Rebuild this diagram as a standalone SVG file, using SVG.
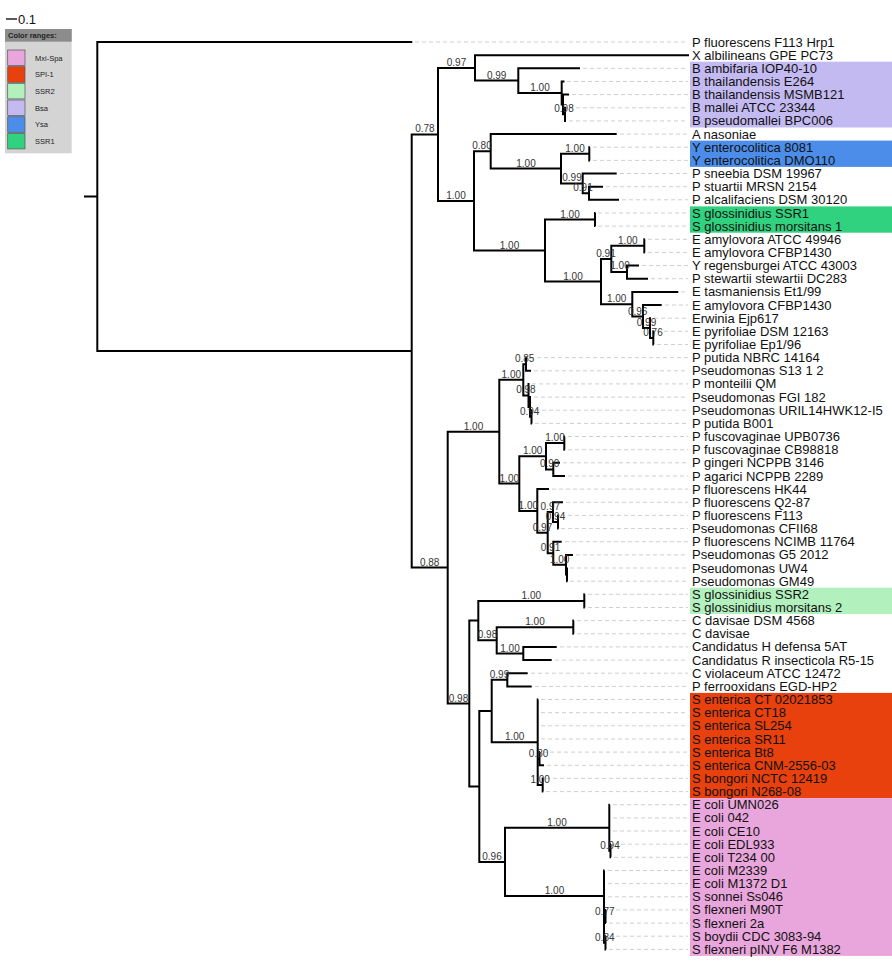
<svg xmlns="http://www.w3.org/2000/svg" width="892" height="963" viewBox="0 0 892 963">
<style>
.br{stroke:#000;stroke-width:2;fill:none;stroke-linejoin:miter}
.gd{stroke:#cfcfcf;stroke-width:1;stroke-dasharray:4 3;fill:none}
.lf{font-family:"Liberation Sans",Arial,sans-serif;font-size:13px;fill:#111}
.bs{font-family:"Liberation Sans",Arial,sans-serif;font-size:10px;fill:#333;text-anchor:middle}
.lg{font-family:"Liberation Sans",Arial,sans-serif;font-size:7.5px;fill:#222}
.sw{stroke:#555;stroke-width:0.7}
</style>
<rect width="892" height="963" fill="#fff"/>
<g id="scale">
<line x1="6" y1="19" x2="17" y2="19" stroke="#000" stroke-width="1.3"/>
<text x="18" y="24" font-family="Liberation Sans, Arial, sans-serif" font-size="13" fill="#111">0.1</text>
</g>
<g id="legend">
<rect x="5" y="29" width="66.7" height="124.3" fill="#d4d4d4"/>
<rect x="5" y="29" width="66.7" height="12.7" fill="#8c8c8c"/>
<text x="8" y="38.3" class="lg" font-weight="bold" fill="#2a2a2a">Color ranges:</text>
<rect x="7.7" y="50" width="17.3" height="15.6" fill="#e9a6dc" class="sw"/>
<text x="35" y="60.5" class="lg">Mxi-Spa</text>
<rect x="7.7" y="66.7" width="17.3" height="15.6" fill="#e8410e" class="sw"/>
<text x="35" y="77.2" class="lg">SPI-1</text>
<rect x="7.7" y="83.3" width="17.3" height="15.6" fill="#b2f0bd" class="sw"/>
<text x="35" y="93.8" class="lg">SSR2</text>
<rect x="7.7" y="100" width="17.3" height="15.6" fill="#c4baf2" class="sw"/>
<text x="35" y="110.5" class="lg">Bsa</text>
<rect x="7.7" y="116.7" width="17.3" height="15.6" fill="#4b8de9" class="sw"/>
<text x="35" y="127.2" class="lg">Ysa</text>
<rect x="7.7" y="133.3" width="17.3" height="15.6" fill="#31d27f" class="sw"/>
<text x="35" y="143.8" class="lg">SSR1</text>
</g>
<g id="ranges">
<rect x="690" y="61.7" width="202" height="65.8" fill="#c4baf2"/>
<rect x="690" y="140.6" width="202" height="26.3" fill="#4b8de9"/>
<rect x="690" y="206.4" width="202" height="26.3" fill="#31d27f"/>
<rect x="690" y="587.7" width="202" height="26.3" fill="#b2f0bd"/>
<rect x="690" y="692.9" width="202" height="105.2" fill="#e8410e"/>
<rect x="690" y="798.1" width="202" height="157.8" fill="#e9a6dc"/>
</g>
<g id="guides">
<path class="gd" d="M415 42H688 M583 68.3H688 M567 81.5H688 M572 94.6H688 M569 107.8H688 M569 120.9H688 M620 134.1H688 M593 147.2H688 M593 160.4H688 M620 173.5H688 M606 186.7H688 M622 199.8H688 M598 213H688 M598 226.1H688 M648 239.3H688 M648 252.4H688 M642 265.6H688 M651 278.7H688 M681 291.9H688 M665 305H688 M654 318.2H688 M657 331.3H688 M657 344.5H688 M530 357.6H688 M534 370.8H688 M532 383.9H688 M534 397.1H688 M535 410.2H688 M535 423.4H688 M568 436.5H688 M568 449.7H688 M563 462.8H688 M568 476H688 M552 489.1H688 M566 502.3H688 M561 515.4H688 M561 528.6H688 M565 541.7H688 M576 554.9H688 M570 568H688 M570 581.2H688 M588 594.3H688 M588 607.5H688 M577 620.6H688 M577 633.8H688 M560 646.9H688 M555 660.1H688 M531 673.2H688 M535 686.4H688 M541 699.5H688 M541 712.7H688 M541 725.8H688 M541 739H688 M543 752.1H688 M547 765.3H688 M546 778.4H688 M546 791.6H688 M613 804.7H688 M613 817.9H688 M613 831H688 M614 844.2H688 M614 857.3H688 M608 870.5H688 M608 883.6H688 M608 896.8H688 M609 909.9H688 M609 923.1H688 M609 936.2H688 M609 949.4H688"/>
</g>
<g id="connectors" class="br">
<path d="M84 196.5H97.3 M412.3 42H97.3V351H411.7"/>
<path d="M438 134.4H411.7V567.6H447.7"/>
<path d="M475 67.9H438V200.9H474"/>
<path d="M689 55.2H475V80.6H518.3"/>
<path d="M580 68.3H518.3V93H561.7"/>
<path d="M564.5 81.5H561.7V104.5H563"/>
<path d="M569 94.6H563V114.3H565"/>
<path d="M566 107.8H565V120.9H566"/>
<path d="M490.7 151.3H474V250.6H545"/>
<path d="M616.7 134.1H490.7V168.6H561"/>
<path d="M589.3 153.8H561V183.4H582.7"/>
<path d="M590 147.2H589.3V160.4H590"/>
<path d="M616.7 173.5H582.7V193.2H589"/>
<path d="M603 186.7H589V199.8H619"/>
<path d="M595 219.5H545V281.6H601"/>
<path d="M595.5 213H595V226.1H595.5"/>
<path d="M611.3 259H601V304.2H632.3"/>
<path d="M644.3 245.8H611.3V272.1H627"/>
<path d="M644.8 239.3H644.3V252.4H644.8"/>
<path d="M639 265.6H627V278.7H648"/>
<path d="M678.3 291.9H632.3V316.5H643"/>
<path d="M661.7 305H643V328H650"/>
<path d="M651 318.2H650V337.9H653.3"/>
<path d="M653.8 331.3H653.3V344.5H653.8"/>
<path d="M499.3 431.7H447.7V703.5H469.3"/>
<path d="M523.3 379.8H499.3V483.6H519.3"/>
<path d="M526 364.2H523.3V395.4H528.5"/>
<path d="M527 357.6H526V370.8H531"/>
<path d="M529.5 383.9H528.5V406.9H530"/>
<path d="M531 397.1H530V416.8H531.5"/>
<path d="M532 410.2H531.5V423.4H532"/>
<path d="M546 456.2H519.3V510.9H537.3"/>
<path d="M564.3 443.1H546V469.4H553.3"/>
<path d="M564.8 436.5H564.3V449.7H564.8"/>
<path d="M560 462.8H553.3V476H565"/>
<path d="M549 489.1H537.3V532.7H547.7"/>
<path d="M553 512.1H547.7V553.2H553.3"/>
<path d="M563 502.3H553V522H558"/>
<path d="M558.5 515.4H558V528.6H558.5"/>
<path d="M561.7 541.7H553.3V564.7H566"/>
<path d="M573 554.9H566V574.6H567"/>
<path d="M567.5 568H567V581.2H567.5"/>
<path d="M478.3 620.6H469.3V786.4H479.3"/>
<path d="M584.3 600.9H478.3V640.3H496.7"/>
<path d="M584.8 594.3H584.3V607.5H584.8"/>
<path d="M573.3 627.2H496.7V653.5H523.3"/>
<path d="M573.8 620.6H573.3V633.8H573.8"/>
<path d="M556.7 646.9H523.3V660.1H551.7"/>
<path d="M491.7 711H479.3V861.9H505"/>
<path d="M507.3 679.8H491.7V742.2H537.7"/>
<path d="M527.7 673.2H507.3V686.4H531.7"/>
<path d="M538.2 699.5H537.7V785H542.7 M537.7 712.7H538.2 M537.7 725.8H538.2 M537.7 739H538.2 M537.7 758.7H539.5"/>
<path d="M540 752.1H539.5V765.3H544"/>
<path d="M543.2 778.4H542.7V791.6H543.2"/>
<path d="M609.3 827.7H505V896H604"/>
<path d="M609.8 804.7H609.3V850.7H610.5 M609.3 817.9H609.8 M609.3 831H609.8"/>
<path d="M611 844.2H610.5V857.3H611"/>
<path d="M604.5 870.5H604V942.8H605.5 M604 883.6H604.5 M604 896.8H604.5 M604 916.5H605.5"/>
<path d="M606 909.9H605.5V923.1H606"/>
<path d="M606 936.2H605.5V949.4H606"/>
</g>
<g id="support" class="bs" opacity="0.99">
<text x="424.9" y="132.4">0.78</text>
<text x="456.5" y="65.9">0.97</text>
<text x="496.7" y="78.6">0.99</text>
<text x="540" y="91">1.00</text>
<text x="564" y="112.3">0.98</text>
<text x="456" y="198.9">1.00</text>
<text x="482" y="149.3">0.80</text>
<text x="526" y="166.6">1.00</text>
<text x="575" y="151.8">1.00</text>
<text x="572" y="181.4">0.99</text>
<text x="583" y="191.2">0.91</text>
<text x="509.5" y="248.6">1.00</text>
<text x="570" y="217.5">1.00</text>
<text x="573" y="279.6">1.00</text>
<text x="606" y="257">0.91</text>
<text x="627.8" y="243.8">1.00</text>
<text x="620" y="269">1.00</text>
<text x="616.7" y="302.2">1.00</text>
<text x="637.7" y="314.5">0.96</text>
<text x="646.5" y="326">0.99</text>
<text x="653" y="335.9">0.76</text>
<text x="429.7" y="565.6">0.88</text>
<text x="473.5" y="429.7">1.00</text>
<text x="511.3" y="377.8">1.00</text>
<text x="524.7" y="362.2">0.85</text>
<text x="525.9" y="393.4">0.98</text>
<text x="529.7" y="414.8">0.94</text>
<text x="509.3" y="481.6">1.00</text>
<text x="532.7" y="454.2">1.00</text>
<text x="555" y="441.1">1.00</text>
<text x="549.7" y="467.4">0.90</text>
<text x="528.3" y="508.9">1.00</text>
<text x="550.3" y="510.1">0.97</text>
<text x="555.5" y="520">0.94</text>
<text x="542.5" y="530.7">0.97</text>
<text x="550.5" y="551.2">0.91</text>
<text x="559.7" y="562.7">1.00</text>
<text x="458.5" y="701.5">0.98</text>
<text x="531.3" y="598.9">1.00</text>
<text x="487.5" y="638.3">0.98</text>
<text x="535" y="625.2">1.00</text>
<text x="510" y="651.5">1.00</text>
<text x="499.5" y="677.8">0.99</text>
<text x="514.7" y="740.2">1.00</text>
<text x="538.6" y="756.7">0.80</text>
<text x="540.2" y="783">1.00</text>
<text x="492" y="859.9">0.96</text>
<text x="557" y="825.7">1.00</text>
<text x="610" y="848.7">0.94</text>
<text x="554.5" y="894">1.00</text>
<text x="604.8" y="914.5">0.77</text>
<text x="604.8" y="940.8">0.84</text>
</g>
<g id="leaf-0"><text class="lf" x="692" y="46.5">P fluorescens F113 Hrp1</text></g>
<g id="leaf-1"><text class="lf" x="692" y="59.7">X albilineans GPE PC73</text></g>
<g id="leaf-2"><text class="lf" x="692" y="72.8">B ambifaria IOP40-10</text></g>
<g id="leaf-3"><text class="lf" x="692" y="86">B thailandensis E264</text></g>
<g id="leaf-4"><text class="lf" x="692" y="99.1">B thailandensis MSMB121</text></g>
<g id="leaf-5"><text class="lf" x="692" y="112.3">B mallei ATCC 23344</text></g>
<g id="leaf-6"><text class="lf" x="692" y="125.4">B pseudomallei BPC006</text></g>
<g id="leaf-7"><text class="lf" x="692" y="138.6">A nasoniae</text></g>
<g id="leaf-8"><text class="lf" x="692" y="151.7">Y enterocolitica 8081</text></g>
<g id="leaf-9"><text class="lf" x="692" y="164.9">Y enterocolitica DMO110</text></g>
<g id="leaf-10"><text class="lf" x="692" y="178">P sneebia DSM 19967</text></g>
<g id="leaf-11"><text class="lf" x="692" y="191.2">P stuartii MRSN 2154</text></g>
<g id="leaf-12"><text class="lf" x="692" y="204.3">P alcalifaciens DSM 30120</text></g>
<g id="leaf-13"><text class="lf" x="692" y="217.5">S glossinidius SSR1</text></g>
<g id="leaf-14"><text class="lf" x="692" y="230.6">S glossinidius morsitans 1</text></g>
<g id="leaf-15"><text class="lf" x="692" y="243.8">E amylovora ATCC 49946</text></g>
<g id="leaf-16"><text class="lf" x="692" y="256.9">E amylovora CFBP1430</text></g>
<g id="leaf-17"><text class="lf" x="692" y="270.1">Y regensburgei ATCC 43003</text></g>
<g id="leaf-18"><text class="lf" x="692" y="283.2">P stewartii stewartii DC283</text></g>
<g id="leaf-19"><text class="lf" x="692" y="296.4">E tasmaniensis Et1/99</text></g>
<g id="leaf-20"><text class="lf" x="692" y="309.5">E amylovora CFBP1430</text></g>
<g id="leaf-21"><text class="lf" x="692" y="322.7">Erwinia Ejp617</text></g>
<g id="leaf-22"><text class="lf" x="692" y="335.8">E pyrifoliae DSM 12163</text></g>
<g id="leaf-23"><text class="lf" x="692" y="349">E pyrifoliae Ep1/96</text></g>
<g id="leaf-24"><text class="lf" x="692" y="362.1">P putida NBRC 14164</text></g>
<g id="leaf-25"><text class="lf" x="692" y="375.3">Pseudomonas S13 1 2</text></g>
<g id="leaf-26"><text class="lf" x="692" y="388.4">P monteilii QM</text></g>
<g id="leaf-27"><text class="lf" x="692" y="401.6">Pseudomonas FGI 182</text></g>
<g id="leaf-28"><text class="lf" x="692" y="414.7">Pseudomonas URIL14HWK12-I5</text></g>
<g id="leaf-29"><text class="lf" x="692" y="427.9">P putida B001</text></g>
<g id="leaf-30"><text class="lf" x="692" y="441">P fuscovaginae UPB0736</text></g>
<g id="leaf-31"><text class="lf" x="692" y="454.2">P fuscovaginae CB98818</text></g>
<g id="leaf-32"><text class="lf" x="692" y="467.3">P gingeri NCPPB 3146</text></g>
<g id="leaf-33"><text class="lf" x="692" y="480.5">P agarici NCPPB 2289</text></g>
<g id="leaf-34"><text class="lf" x="692" y="493.6">P fluorescens HK44</text></g>
<g id="leaf-35"><text class="lf" x="692" y="506.8">P fluorescens Q2-87</text></g>
<g id="leaf-36"><text class="lf" x="692" y="519.9">P fluorescens F113</text></g>
<g id="leaf-37"><text class="lf" x="692" y="533.1">Pseudomonas CFII68</text></g>
<g id="leaf-38"><text class="lf" x="692" y="546.2">P fluorescens NCIMB 11764</text></g>
<g id="leaf-39"><text class="lf" x="692" y="559.4">Pseudomonas G5 2012</text></g>
<g id="leaf-40"><text class="lf" x="692" y="572.5">Pseudomonas UW4</text></g>
<g id="leaf-41"><text class="lf" x="692" y="585.7">Pseudomonas GM49</text></g>
<g id="leaf-42"><text class="lf" x="692" y="598.8">S glossinidius SSR2</text></g>
<g id="leaf-43"><text class="lf" x="692" y="612">S glossinidius morsitans 2</text></g>
<g id="leaf-44"><text class="lf" x="692" y="625.1">C davisae DSM 4568</text></g>
<g id="leaf-45"><text class="lf" x="692" y="638.3">C davisae</text></g>
<g id="leaf-46"><text class="lf" x="692" y="651.4">Candidatus H defensa 5AT</text></g>
<g id="leaf-47"><text class="lf" x="692" y="664.6">Candidatus R insecticola R5-15</text></g>
<g id="leaf-48"><text class="lf" x="692" y="677.7">C violaceum ATCC 12472</text></g>
<g id="leaf-49"><text class="lf" x="692" y="690.9">P ferrooxidans EGD-HP2</text></g>
<g id="leaf-50"><text class="lf" x="692" y="704">S enterica CT 02021853</text></g>
<g id="leaf-51"><text class="lf" x="692" y="717.2">S enterica CT18</text></g>
<g id="leaf-52"><text class="lf" x="692" y="730.3">S enterica SL254</text></g>
<g id="leaf-53"><text class="lf" x="692" y="743.5">S enterica SR11</text></g>
<g id="leaf-54"><text class="lf" x="692" y="756.6">S enterica Bt8</text></g>
<g id="leaf-55"><text class="lf" x="692" y="769.8">S enterica CNM-2556-03</text></g>
<g id="leaf-56"><text class="lf" x="692" y="782.9">S bongori NCTC 12419</text></g>
<g id="leaf-57"><text class="lf" x="692" y="796.1">S bongori N268-08</text></g>
<g id="leaf-58"><text class="lf" x="692" y="809.2">E coli UMN026</text></g>
<g id="leaf-59"><text class="lf" x="692" y="822.4">E coli 042</text></g>
<g id="leaf-60"><text class="lf" x="692" y="835.5">E coli CE10</text></g>
<g id="leaf-61"><text class="lf" x="692" y="848.7">E coli EDL933</text></g>
<g id="leaf-62"><text class="lf" x="692" y="861.8">E coli T234 00</text></g>
<g id="leaf-63"><text class="lf" x="692" y="875">E coli M2339</text></g>
<g id="leaf-64"><text class="lf" x="692" y="888.1">E coli M1372 D1</text></g>
<g id="leaf-65"><text class="lf" x="692" y="901.3">S sonnei Ss046</text></g>
<g id="leaf-66"><text class="lf" x="692" y="914.4">S flexneri M90T</text></g>
<g id="leaf-67"><text class="lf" x="692" y="927.6">S flexneri 2a</text></g>
<g id="leaf-68"><text class="lf" x="692" y="940.7">S boydii CDC 3083-94</text></g>
<g id="leaf-69"><text class="lf" x="692" y="953.9">S flexneri pINV F6 M1382</text></g>
</svg>
